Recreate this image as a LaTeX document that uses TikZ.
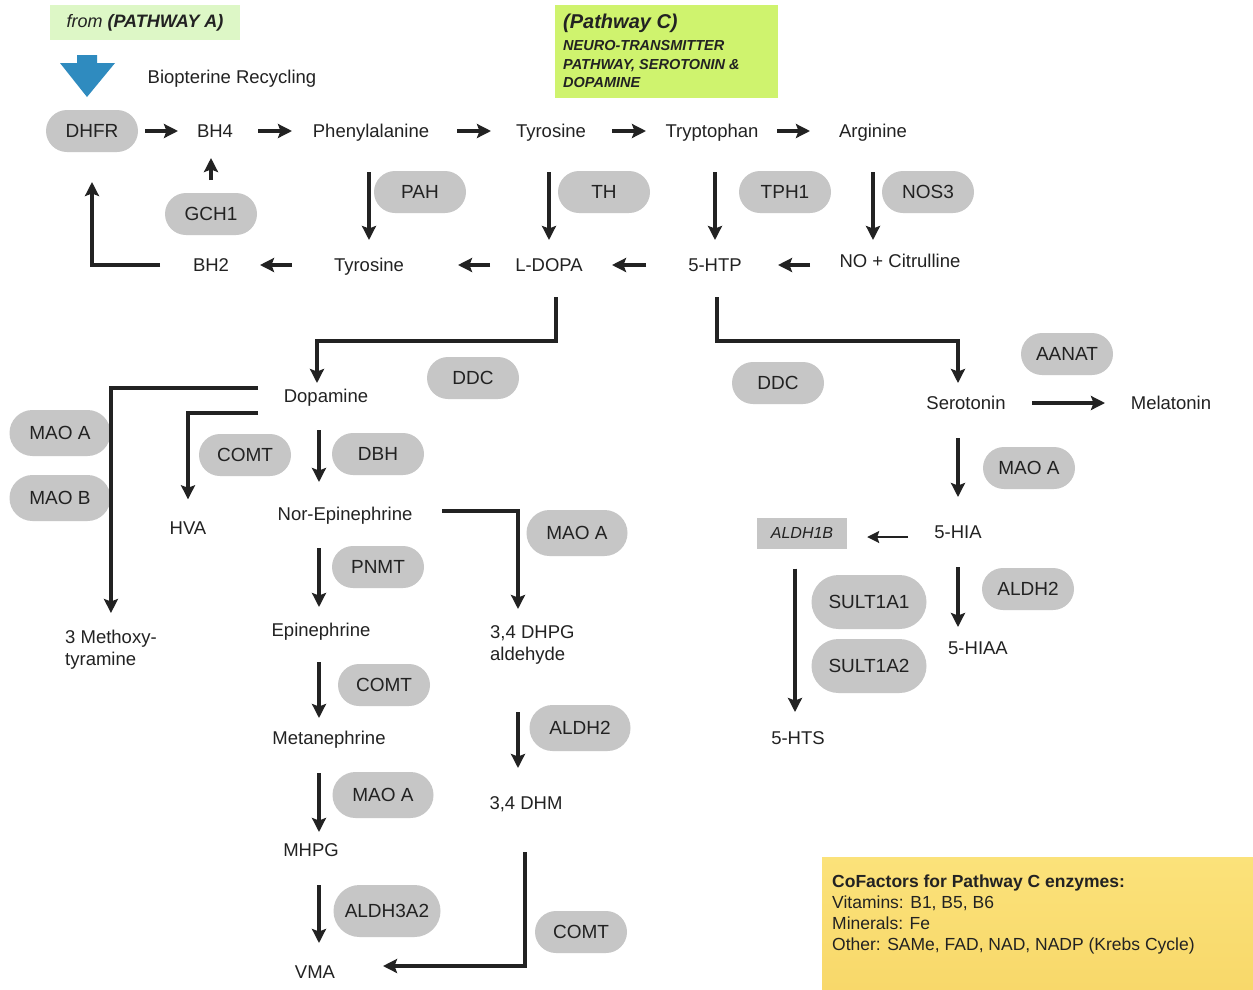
\documentclass[tikz,border=0pt]{standalone}
\usepackage{fontspec}
\setmainfont{Liberation Sans}
\usetikzlibrary{arrows.meta,calc}
\definecolor{pillgray}{HTML}{C6C6C6}
\definecolor{palegreen}{HTML}{DDF7C6}
\definecolor{limegreen}{HTML}{CFF36E}
\definecolor{bluearrow}{HTML}{2F8BBF}
\definecolor{cofTop}{HTML}{FBE27A}
\definecolor{cofBot}{HTML}{F8D86A}
\definecolor{ink}{HTML}{222222}
\begin{document}
\begin{tikzpicture}[x=1pt,y=-1pt,
  mol/.style={font=\fontsize{18.5}{22}\selectfont, text=ink, inner sep=0pt, text height=13pt, text depth=0pt},
  molml/.style={font=\fontsize{18.5}{22}\selectfont, text=ink, inner sep=0pt, align=left, anchor=north west},
  pill/.style={fill=pillgray, rounded corners=21pt, minimum width=92pt, minimum height=42pt, inner sep=0pt, font=\fontsize{19}{22}\selectfont, text=ink},
  pillL/.style={pill, rounded corners=23pt, minimum width=101pt, minimum height=46pt},
  pillXL/.style={pill, rounded corners=27pt, minimum width=115pt, minimum height=54pt},
  arr/.style={draw=ink, line width=3.2pt, -{Stealth[length=14pt,width=14pt,inset=2.5pt]}},
  arrthin/.style={draw=ink, line width=2pt, -{Stealth[length=12pt,width=12pt,inset=2pt]}},
]
\useasboundingbox (0,0) rectangle (1253,989);
\fill[white] (0,0) rectangle (1253,989);

% ---- header boxes
\node[fill=palegreen, minimum width=190pt, minimum height=35pt, inner sep=0pt, text=ink,
      font=\fontsize{18}{20}\selectfont] (pa) at (145,22.5) {\itshape from \textbf{(PATHWAY A)}};
\fill[bluearrow] (77,55) -- (97,55) -- (97,63) -- (115,63) -- (87,97) -- (60,63) -- (77,63) -- cycle;
\node[mol] (bio) at (232,77) {Biopterine Recycling};

\node[fill=limegreen, minimum width=223pt, minimum height=93pt, inner sep=0pt, anchor=north west] (pcbox) at (555,5) {};
\node[anchor=west, inner sep=0pt, text=ink, font=\fontsize{20}{22}\selectfont\bfseries\itshape] (pctitle) at (563,23) {(Pathway C)};
\node[anchor=north west, align=left, inner sep=0pt, text=ink, font=\fontsize{14.5}{18.5}\selectfont\bfseries\itshape] (pcsub) at (563,40.5) {NEURO-TRANSMITTER\\PATHWAY, SEROTONIN \&\\DOPAMINE};

% ---- top row
\node[pill] (dhfr) at (92,131) {DHFR};
\node[mol] (bh4) at (215,131) {BH4};
\node[mol] (phe) at (371,131) {Phenylalanine};
\node[mol] (tyr) at (551,131) {Tyrosine};
\node[mol] (trp) at (712,131) {Tryptophan};
\node[mol] (arg) at (873,131) {Arginine};

% ---- enzymes row 1
\node[pill] (gch1) at (211,214) {GCH1};
\node[pill] (pah) at (420,192) {PAH};
\node[pill] (th) at (604,192) {TH};
\node[pill] (tph1) at (785,192) {TPH1};
\node[pill] (nos3) at (928,192) {NOS3};

% ---- second row
\node[mol] (bh2) at (211,265) {BH2};
\node[mol] (tyr2) at (369,265) {Tyrosine};
\node[mol] (ldopa) at (549,265) {L-DOPA};
\node[mol] (htp) at (715,265) {5-HTP};
\node[mol] (nocit) at (900,261) {NO + Citrulline};

% ---- lower part
\node[pill] (ddc1) at (473,378) {DDC};
\node[pill] (ddc2) at (778,383) {DDC};
\node[pill] (aanat) at (1067,354) {AANAT};
\node[mol] (dopa) at (326,396) {Dopamine};
\node[mol] (sero) at (966,403) {Serotonin};
\node[mol] (mel) at (1171,403) {Melatonin};

\node[pillL] (maoa1) at (60,433) {MAO A};
\node[pillL] (maob) at (60,498) {MAO B};
\node[pill] (comt1) at (245,455) {COMT};
\node[pill] (dbh) at (378,454) {DBH};
\node[mol] (hva) at (188,528) {HVA};
\node[mol] (norepi) at (345,514) {Nor-Epinephrine};
\node[pillL] (maoa2) at (577,533) {MAO A};
\node[pill] (pnmt) at (378,567) {PNMT};
\node[molml] (meth) at (65,630) {3 Methoxy-\\tyramine};
\node[mol] (epi) at (321,630) {Epinephrine};
\node[molml] (dhpg) at (490,625) {3,4 DHPG\\aldehyde};
\node[pill] (comt2) at (384,685) {COMT};
\node[pillL] (aldh2a) at (580,728) {ALDH2};
\node[mol] (meta) at (329,738) {Metanephrine};
\node[pillL] (maoa3) at (383,795) {MAO A};
\node[mol] (dhm) at (526,803) {3,4 DHM};
\node[mol] (mhpg) at (311,850) {MHPG};
\node[pillXL, minimum width=107pt, minimum height=52pt, rounded corners=26pt] (aldh3a2) at (387,911) {ALDH3A2};
\node[pill] (comt3) at (581,932) {COMT};
\node[mol] (vma) at (315,972) {VMA};

\node[pill] (maoa4) at (1029,468) {MAO A};
\node[mol] (hia) at (958,532) {5-HIA};
\node[fill=pillgray, minimum width=90pt, minimum height=31pt, inner sep=0pt, text=ink,
      font=\fontsize{16}{18}\selectfont\itshape] (aldh) at (802,533) {ALDH1B};
\node[pill] (aldh2b) at (1028,589) {ALDH2};
\node[pillXL] (sult1) at (869,602) {SULT1A1};
\node[pillXL] (sult2) at (869,666) {SULT1A2};
\node[mol] (hiaa) at (978,648) {5-HIAA};
\node[mol] (hts) at (798,738) {5-HTS};

% ---- cofactors box
\node[anchor=north west, minimum width=431pt, minimum height=132pt, inner sep=0pt,
      top color=cofTop, bottom color=cofBot] (cofbox) at (822,857) {};
\node[anchor=north west, align=left, inner sep=0pt, text=ink, font=\fontsize{17.5}{21}\selectfont] (coftext) at (832,875)
  {\textbf{CoFactors for Pathway C enzymes:}\\Vitamins: B1, B5, B6\\Minerals: Fe\\Other: SAMe, FAD, NAD, NADP (Krebs Cycle)};

% ---- alignment coordinates
\coordinate (colA) at (319,0);
\coordinate (colB) at (518,0);
\coordinate (colC) at (958,0);
\coordinate (colD) at (795,0);

% ---- top row arrows
\draw[arr, shorten <=53pt, shorten >=37pt] (dhfr.center) -- (bh4.center);
\draw[arr, shorten <=43pt, shorten >=79pt] (bh4.center) -- (phe.center);
\draw[arr, shorten <=86pt, shorten >=60pt] (phe.center) -- (tyr.center);
\draw[arr, shorten <=61pt, shorten >=66pt] (tyr.center) -- (trp.center);
\draw[arr, shorten <=65pt, shorten >=63pt] (trp.center) -- (arg.center);

% ---- vertical top arrows
\draw[arr, shorten <=41pt, shorten >=25pt] (tyr2.center |- phe.center) -- (tyr2.center);
\draw[arr, shorten <=41pt, shorten >=25pt] (ldopa.center |- tyr.center) -- (ldopa.center);
\draw[arr, shorten <=41pt, shorten >=25pt] (htp.center |- trp.center) -- (htp.center);
\draw[arr, shorten <=41pt, shorten >=21pt] (arg.center) -- (arg.center |- nocit.center);
\draw[arr, shorten <=34pt, shorten >=27pt] (gch1.center) -- (gch1.center |- bh4.center);

% ---- bottom row arrows
\draw[arr, shorten <=77pt, shorten >=49pt] (tyr2.center) -- (bh2.center);
\draw[arr, shorten <=59pt, shorten >=89pt] (ldopa.center) -- (tyr2.center);
\draw[arr, shorten <=69pt, shorten >=63pt] (htp.center) -- (ldopa.center);
\draw[arr, shorten <=90pt, shorten >=63pt] (htp.center -| nocit.center) -- (htp.center);
\draw[arr, shorten <=51pt, shorten >=51pt] (bh2.center) -| (dhfr.center);

% ---- DDC branches
\draw[arr, shorten <=32pt] ([xshift=7pt]ldopa.center) -- ++(0,76) -| ([shift={(-9,-13)}]dopa.center);
\draw[arr, shorten <=32pt] ([xshift=2pt]htp.center) -- ++(0,76) -| ([shift={(-8,-20)}]sero.center);
\draw[arr, shorten <=66pt, shorten >=66pt] (sero.center) -- (mel.center);

% ---- dopamine branches
\draw[arr] ([shift={(-68,-8)}]dopa.center) -| ($(meth.north)+(0,-17)$);
\draw[arr] ([shift={(-68,17)}]dopa.center) -| ($(hva.north)+(0,-22)$);

% ---- column A
\draw[arr, shorten <=34pt, shorten >=32pt] (dopa.center -| colA) -- (norepi.center -| colA);
\draw[arr, shorten <=34pt, shorten >=23pt] (norepi.center -| colA) -- (epi.center -| colA);
\draw[arr, shorten <=32pt, shorten >=20pt] (epi.center -| colA) -- (meta.center -| colA);
\draw[arr, shorten <=35pt, shorten >=18pt] (meta.center -| colA) -- (mhpg.center -| colA);
\draw[arr, shorten <=35pt, shorten >=29pt] (mhpg.center -| colA) -- (vma.center -| colA);

% ---- column B
\draw[arr] ([shift={(97,-3)}]norepi.center) -| ($(dhpg.north -| colB)+(0,-16)$);
\draw[arr, shorten >=35pt] ($(dhm.center -| colB)+(0,-91)$) -- (dhm.center -| colB);
\draw[arr] ($(dhm.center)+(-1,49)$) |- ($(vma.center)+(68,-6)$);

% ---- serotonin column
\draw[arr, shorten <=35pt, shorten >=35pt] (sero.center -| colC) -- (hia.center -| colC);
\draw[arr, shorten <=35pt, shorten >=21pt] (hia.center -| colC) -- (hiaa.center -| colC);
\draw[arrthin] ($(hia.center)+(-50,5)$) -- ($(aldh.east)+(20,4)$);
\draw[arr, shorten <=20pt, shorten >=26pt] (aldh.south -| colD) -- (hts.center -| colD);
\end{tikzpicture}
\end{document}
